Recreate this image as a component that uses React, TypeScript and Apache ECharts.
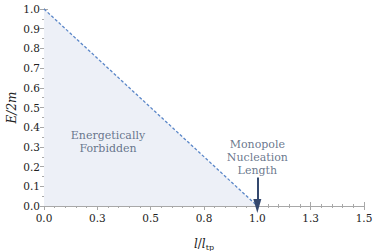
import React, { useEffect, useRef } from "react";
import * as echarts from "echarts";

const boundaryX = [0, 1.0];
const boundaryY = [1.0, 0.0];
const xTickLabels = ["0.0", "0.3", "0.5", "0.8", "1.0", "1.3", "1.5"];
const yTickLabels = ["0.0", "0.1", "0.2", "0.3", "0.4", "0.5", "0.6", "0.7", "0.8", "0.9", "1.0"];
const arrowX = [1.0, 1.0];
const arrowY = [0.145, 0.0];
const annotations: [number, number, string][] = [
  [0.3, 0.325, "Energetically\nForbidden"],
  [1.0, 0.245, "Monopole\nNucleation\nLength"],
];

const FONT = "DejaVu Serif";
const AXIS_COLOR = "#a8a8a8";
const TEXT_COLOR = "#222";

export default function App() {
  const ref = useRef<HTMLDivElement>(null);
  useEffect(() => {
    if (!ref.current) return;
    const chart = echarts.init(ref.current, undefined, { renderer: "svg" });
    const common = {
      axisLine: { show: true, lineStyle: { color: AXIS_COLOR, width: 1 } },
      splitLine: { show: false },
    };
    chart.setOption({
      animation: false,
      backgroundColor: "#fff",
      textStyle: { fontFamily: FONT },
      grid: { left: 44, right: 10, top: 9, bottom: 45, containLabel: false, outerBoundsMode: "none" },
      xAxis: [
        {
          type: "value",
          min: 0,
          max: 1.5,
          interval: 0.25,
          position: "bottom",
          ...common,
          axisTick: { show: true, inside: true, length: 4, lineStyle: { color: AXIS_COLOR } },
          minorTick: { show: true, splitNumber: 5, length: 2, lineStyle: { color: AXIS_COLOR } },
          axisLabel: {
            margin: 6,
            fontFamily: FONT,
            fontSize: 10.5,
            color: TEXT_COLOR,
            formatter: (v: number) => xTickLabels[Math.round(v / 0.25)] ?? "",
          },
          name: "{i|l}{n|/}{i|l}{s|tp}",
          nameLocation: "middle",
          nameGap: 31,
          nameTextStyle: {
            fontFamily: FONT,
            rich: {
              i: { fontFamily: FONT, fontStyle: "italic", fontSize: 12, color: TEXT_COLOR },
              n: { fontFamily: FONT, fontSize: 12, color: TEXT_COLOR },
              s: { fontFamily: FONT, fontSize: 8, color: TEXT_COLOR, verticalAlign: "bottom", padding: [6, 0, 0, 0] },
            },
          },
        },
        {
          type: "value",
          min: 0,
          max: 1.5,
          interval: 0.25,
          position: "top",
          ...common,
          axisTick: { show: true, inside: true, length: 4, lineStyle: { color: AXIS_COLOR } },
          minorTick: { show: true, splitNumber: 5, length: 2, lineStyle: { color: AXIS_COLOR } },
          axisLabel: { show: false },
        },
      ],
      yAxis: [
        {
          type: "value",
          min: 0,
          max: 1,
          interval: 0.1,
          position: "left",
          ...common,
          axisTick: { show: true, inside: true, length: 4, lineStyle: { color: AXIS_COLOR } },
          minorTick: { show: true, splitNumber: 10, length: 2, lineStyle: { color: AXIS_COLOR } },
          axisLabel: {
            margin: 4,
            fontFamily: FONT,
            fontSize: 10.5,
            color: TEXT_COLOR,
            formatter: (v: number) => yTickLabels[Math.round(v / 0.1)] ?? "",
          },
          name: "E/2m",
          nameLocation: "middle",
          nameRotate: 90,
          nameGap: 26,
          nameMoveOverlap: false,
          nameTextStyle: { fontFamily: FONT, fontStyle: "italic", fontSize: 12, color: TEXT_COLOR },
        },
        {
          type: "value",
          min: 0,
          max: 1,
          interval: 0.1,
          position: "right",
          ...common,
          axisTick: { show: true, inside: true, length: 4, lineStyle: { color: AXIS_COLOR } },
          minorTick: { show: true, splitNumber: 2, length: 2, lineStyle: { color: AXIS_COLOR } },
          axisLabel: { show: false },
        },
      ],
      series: [
        {
          type: "line",
          xAxisIndex: 0,
          yAxisIndex: 0,
          data: boundaryX.map((x, i) => [x, boundaryY[i]]),
          symbol: "none",
          lineStyle: { color: "#5a86c8", width: 1.3, type: [3, 2] },
          areaStyle: { color: "#edf0f7", opacity: 1 },
          z: 2,
        },
        {
          type: "line",
          xAxisIndex: 0,
          yAxisIndex: 0,
          data: [],
          symbol: "none",
          markLine: {
            silent: true,
            symbol: ["none", "triangle"],
            symbolSize: [8, 14],
            label: { show: false },
            lineStyle: { color: "#34486e", width: 2, type: "solid" },
            data: [[{ coord: [arrowX[0], arrowY[0]] }, { coord: [arrowX[1], arrowY[1]] }]],
          },
          z: 4,
        },
        {
          type: "scatter",
          xAxisIndex: 0,
          yAxisIndex: 0,
          symbolSize: 0,
          data: annotations.map((a) => ({ value: [a[0], a[1]], name: a[2] })),
          label: {
            show: true,
            position: "inside",
            formatter: (p: any) => p.name,
            fontFamily: FONT,
            fontSize: 11,
            lineHeight: 13,
            color: "#44546f",
            align: "center",
          },
          z: 5,
        },
      ],
    });
    return () => chart.dispose();
  }, []);
  return (
    <div
      ref={ref}
      style={{ position: "fixed", left: 0, top: 0, width: 374, height: 251 }}
    />
  );
}
